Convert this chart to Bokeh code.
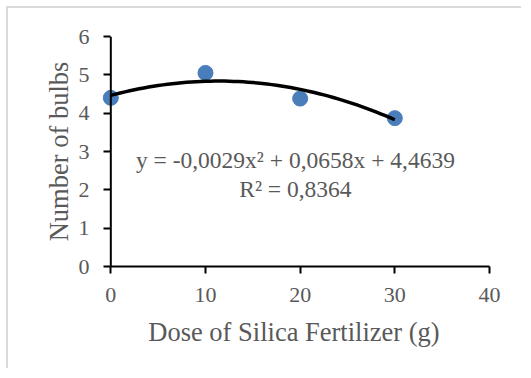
import numpy as np
from bokeh.plotting import figure
from bokeh.models import Range1d, FixedTicker, Label, Span
from bokeh.embed import file_html
from bokeh.resources import INLINE

# Data
dose = [0, 10, 20, 30]
bulbs = [4.4, 5.05, 4.38, 3.87]
# Polynomial trendline coefficients (as printed on chart)
trend_coef = [-0.0029, 0.0658, 4.4639]
eq_text = "y = -0,0029x\u00b2 + 0,0658x + 4,4639"
r2_text = "R\u00b2 = 0,8364"
x_ticks = [0, 10, 20, 30, 40]
y_ticks = [0, 1, 2, 3, 4, 5, 6]

FONT = "Liberation Serif"
GRAY = "#595959"

p = figure(width=515, height=362, output_backend="svg", toolbar_location=None,
           x_range=Range1d(-1.3, 40), y_range=Range1d(0, 6),
           min_border_left=90, min_border_right=34, min_border_top=28, min_border_bottom=104,
           styles={"margin-left": "6px", "margin-top": "6px",
                   "border-top": "2px solid #d9d9d9", "border-left": "2px solid #d9d9d9"})
p.outline_line_color = None
p.grid.grid_line_color = None
p.background_fill_color = "white"
p.border_fill_color = "white"

for ax in (p.xaxis[0], p.yaxis[0]):
    ax.axis_line_color = "black"
    ax.axis_line_width = 2
    ax.major_tick_line_color = "black"
    ax.major_tick_line_width = 2
    ax.major_tick_out = 7
    ax.major_tick_in = 0
    ax.minor_tick_line_color = None
    ax.major_label_text_font = FONT
    ax.major_label_text_font_size = "22px"
    ax.major_label_text_color = GRAY
    ax.axis_label_text_font = FONT
    ax.axis_label_text_font_size = "26.5px"
    ax.axis_label_text_color = GRAY
    ax.axis_label_text_font_style = "normal"

p.xaxis.ticker = FixedTicker(ticks=x_ticks)
p.yaxis.ticker = FixedTicker(ticks=y_ticks)
p.xaxis.bounds = (0, 40)
# y axis sits at frame edge (x=-1.3); its ticks are shifted to end at x=0
p.yaxis.axis_line_color = None
p.yaxis.major_tick_out = -5
p.yaxis.major_tick_in = 12
p.xaxis.axis_label = "Dose of Silica Fertilizer (g)"
p.yaxis.axis_label = "Number of bulbs"
p.xaxis.major_label_standoff = 14
p.yaxis.major_label_standoff = 9
p.xaxis.axis_label_standoff = 12
p.yaxis.axis_label_standoff = 2

p.add_layout(Span(location=0, dimension="height", line_color="black", line_width=2))

p.scatter(dose, bulbs, size=15, color="#4a7ebb", line_color="#4a7ebb")

xt = np.linspace(min(dose), max(dose), 61)
yt = np.polyval(trend_coef, xt)
p.line(xt, yt, line_color="black", line_width=3.5)

p.add_layout(Label(x=19.5, y=2.79, text=eq_text, text_align="center", text_baseline="alphabetic",
                   text_font=FONT, text_font_size="23.5px", text_color=GRAY))
p.add_layout(Label(x=19.5, y=2.01, text=r2_text, text_align="center", text_baseline="alphabetic",
                   text_font=FONT, text_font_size="23.5px", text_color=GRAY))

open("out.html", "w").write(file_html(p, INLINE))
